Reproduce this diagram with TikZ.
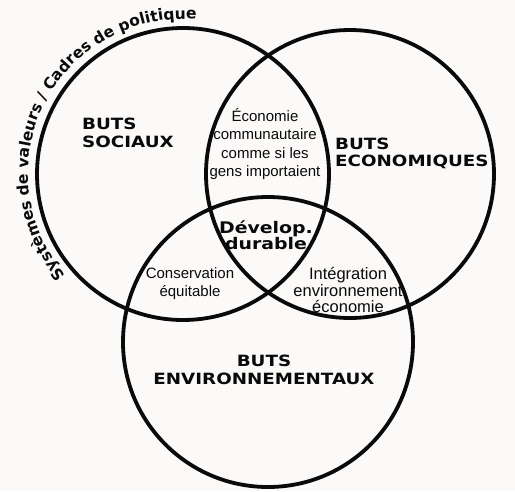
\documentclass[tikz,border=0pt]{standalone}
\usepackage{fontspec}
\setmainfont{Liberation Sans}
\newfontfamily\bb[FakeStretch=1.18]{DejaVu Sans}
\newfontfamily\cv{DejaVu Sans}
\usetikzlibrary{decorations.text}
\definecolor{bg}{RGB}{252,250,248}
\definecolor{ink}{RGB}{10,10,10}
\begin{document}
\begin{tikzpicture}[x=1pt,y=1pt,
  ring/.style={circle, draw=ink, line width=3.8pt, inner sep=0pt},
  goal/.style={font=\bb\bfseries\fontsize{15.5}{17.5}\selectfont, text=ink, inner sep=0pt},
  core/.style={font=\bb\bfseries\fontsize{16}{16.5}\selectfont, text=ink, align=center, inner sep=0pt},
  overlap/.style={font=\fontsize{15}{18.5}\selectfont, text=ink, align=center, inner sep=0pt}]
\useasboundingbox (0,0) rectangle (515,-491);
\fill[bg] (0,0) rectangle (515,-491);
% circles
\node[ring, minimum size=292pt] (soc) at (183,-174) {};
\node[ring, minimum size=288pt] (eco) at (350,-174) {};
\node[ring, minimum size=290pt] (env) at (268,-342) {};
% curved text
\path[decorate, decoration={text along path,
  text={|\cv\bfseries\fontsize{15.5}{15.5}\selectfont\color{ink}|Systèmes de valeurs / Cadres de politique},
  text align=left}]
  ([shift={(221:155)}]soc.center) arc[start angle=221, end angle=78, radius=155];
% goal labels
\node[goal, anchor=west, align=left] (lsoc) at (82,-133) {BUTS\\SOCIAUX};
\node[goal, anchor=west, align=left] (leco) at (335,-153.5) {BUTS\\ECONOMIQUES};
\node[goal, align=center] (lenv) at (264,-370) {BUTS\\ENVIRONNEMENTAUX};
% overlaps
\node[overlap] (lse) at (265,-144) {Économie\\communautaire\\comme si les\\gens importaient};
\node[core] (ldd) at (266,-235) {Dévelop.\\durable};
\node[overlap, font=\fontsize{15}{18}\selectfont] (lsv) at (190,-284) {Conservation\\équitable};
\node[overlap, font=\fontsize{16.5}{17}\selectfont] (lev) at (348,-290) {Intégration\\environnement\\économie};
\end{tikzpicture}
\end{document}
